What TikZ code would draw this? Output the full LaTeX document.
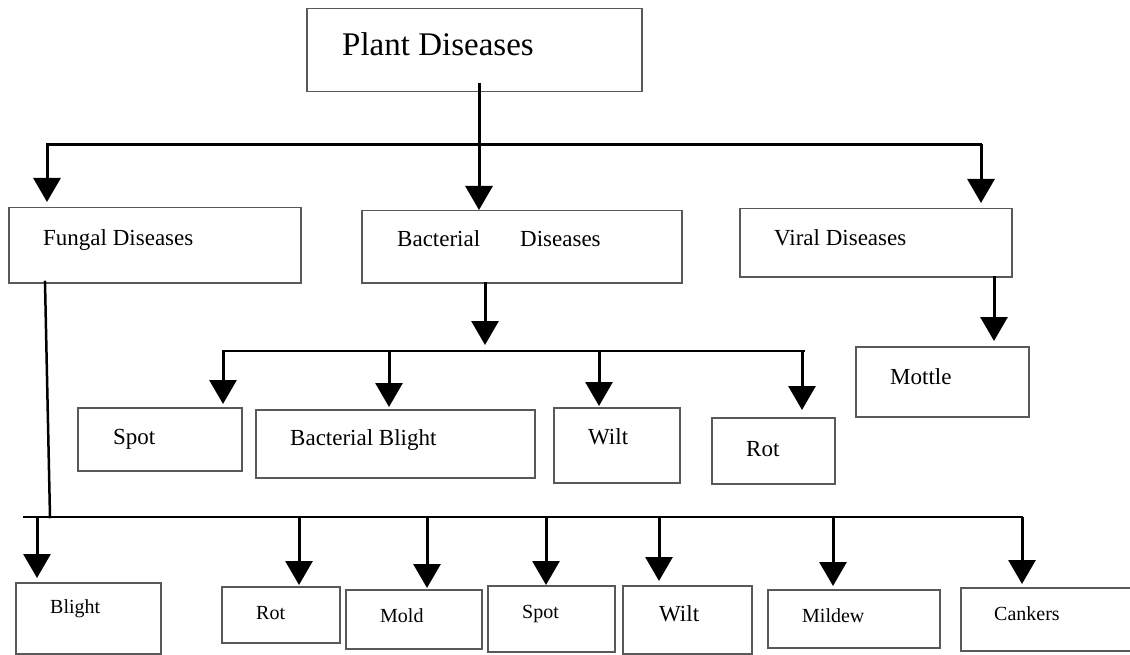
\documentclass[tikz,border=0pt]{standalone}
\usepackage{fontspec}
\setmainfont{Liberation Serif}
\usetikzlibrary{arrows.meta}
\begin{document}
\begin{tikzpicture}[x=1pt,y=-1pt,
  box/.style={draw=black!65, line width=1.5pt, anchor=north west, inner sep=0pt},
  bigtxt/.style={anchor=base west, inner sep=0pt, font=\fontsize{33}{40}\selectfont},
  midtxt/.style={anchor=base west, inner sep=0pt, font=\fontsize{23}{28}\selectfont},
  smalltxt/.style={anchor=base west, inner sep=0pt, font=\fontsize{20}{24}\selectfont},
  bus/.style={line width=2.5pt, line cap=rect},
  arr/.style={line width=3pt, -{Triangle[width=27pt,length=24pt]}},
]
\path[use as bounding box, fill=white] (0,0) rectangle (1130,655);
\clip (0,0) rectangle (1130,655);

% ---- boxes ----
\node[box, minimum width=335pt, minimum height=83pt] (plant)  at (306,8) {};
\node[box, minimum width=292pt, minimum height=75pt] (fungal) at (8,207) {};
\node[box, minimum width=320pt, minimum height=72pt] (bact)   at (361,210) {};
\node[box, minimum width=272pt, minimum height=68pt] (viral)  at (739,208) {};

\node[box, minimum width=164pt, minimum height=63pt] (spotA)   at (77,407) {};
\node[box, minimum width=279pt, minimum height=68pt] (bblight) at (255,409) {};
\node[box, minimum width=126pt, minimum height=75pt] (wiltA)   at (553,407) {};
\node[box, minimum width=123pt, minimum height=66pt] (rotA)    at (711,417) {};
\node[box, minimum width=173pt, minimum height=70pt] (mottle)  at (855,346) {};

\node[box, minimum width=145pt, minimum height=71pt] (blight)  at (15,582) {};
\node[box, minimum width=118pt, minimum height=56pt] (rotB)    at (221,586) {};
\node[box, minimum width=136pt, minimum height=59pt] (mold)    at (345,589) {};
\node[box, minimum width=127pt, minimum height=66pt] (spotB)   at (487,585) {};
\node[box, minimum width=129pt, minimum height=68pt] (wiltB)   at (622,585) {};
\node[box, minimum width=172pt, minimum height=58pt] (mildew)  at (767,589) {};
\node[box, minimum width=185pt, minimum height=63pt] (cankers) at (960,587) {};

% ---- texts ----
\node[bigtxt] (tplant)  at (342,56)  {Plant Diseases};
\node[midtxt] (tfungal) at (43,246)  {Fungal Diseases};
\node[midtxt] (tbact1)  at (397,247) {Bacterial};
\node[midtxt] (tbact2)  at (520,247) {Diseases};
\node[midtxt] (tviral)  at (774,246) {Viral Diseases};

\node[midtxt] (tspotA)   at (113,444) {Spot};
\node[midtxt] (tbblight) at (290,445) {Bacterial Blight};
\node[midtxt] (twiltA)   at (588,444) {Wilt};
\node[midtxt] (trotA)    at (746,456) {Rot};
\node[midtxt] (tmottle)  at (890,384) {Mottle};

\node[smalltxt] (tblight)  at (50,613)  {Blight};
\node[smalltxt] (trotB)    at (256,619) {Rot};
\node[smalltxt] (tmold)    at (380,622) {Mold};
\node[smalltxt] (tspotB)   at (522,618) {Spot};
\node[midtxt]   (twiltB)   at (659,621) {Wilt};
\node[smalltxt] (tmildew)  at (802,622) {Mildew};
\node[smalltxt] (tcankers) at (994,620) {Cankers};

% ---- level 1 connectors ----
\coordinate (pd)  at (479,83);
\coordinate (tbL) at (47,144.5);
\coordinate (tbR) at (981,144.5);
\draw[bus] (tbL) -- (tbR);
\draw[arr] (pd) -- (pd |- bact.north);
\draw[arr, shorten >=5pt] (tbL) -- (tbL |- fungal.north);
\draw[arr, shorten >=5pt] (tbR) -- (tbR |- viral.north);

% ---- bacterial children ----
\coordinate (bd)  at (485,282);
\coordinate (bbL) at (223,351);
\coordinate (bbR) at (804,351);
\coordinate (d2)  at (389,351);
\coordinate (d3)  at (599,351);
\coordinate (d4)  at (802,351);
\draw[arr, shorten >=6pt] (bd) -- (bd |- bbL);
\draw[bus] (bbL) -- (bbR);
\draw[arr, shorten >=3pt] (bbL) -- (bbL |- spotA.north);
\draw[arr, shorten >=2pt] (d2) -- (d2 |- bblight.north);
\draw[arr, shorten >=1pt] (d3) -- (d3 |- wiltA.north);
\draw[arr, shorten >=7pt] (d4) -- (d4 |- rotA.north);

% ---- viral child ----
\coordinate (vd) at (994,276);
\draw[arr, shorten >=5pt] (vd) -- (vd |- mottle.north);

% ---- fungal children ----
\coordinate (fd) at (45,282);
\coordinate (fb) at (50,517);
\coordinate (fbL) at (24,517);
\coordinate (e1) at (37,517);
\coordinate (e2) at (299,517);
\coordinate (e3) at (427,517);
\coordinate (e4) at (546,517);
\coordinate (e5) at (659,517);
\coordinate (e6) at (833,517);
\coordinate (e7) at (1022,517);
\draw[bus] (fd) -- (fb);
\draw[bus] (fbL) -- (e7);
\draw[arr, shorten >=4pt] (e1) -- (e1 |- blight.north);
\draw[arr, shorten >=1pt] (e2) -- (e2 |- rotB.north);
\draw[arr, shorten >=1pt] (e3) -- (e3 |- mold.north);
\draw[arr] (e4) -- (e4 |- spotB.north);
\draw[arr, shorten >=4pt] (e5) -- (e5 |- wiltB.north);
\draw[arr, shorten >=3pt] (e6) -- (e6 |- mildew.north);
\draw[arr, shorten >=3pt] (e7) -- (e7 |- cankers.north);
\end{tikzpicture}
\end{document}
